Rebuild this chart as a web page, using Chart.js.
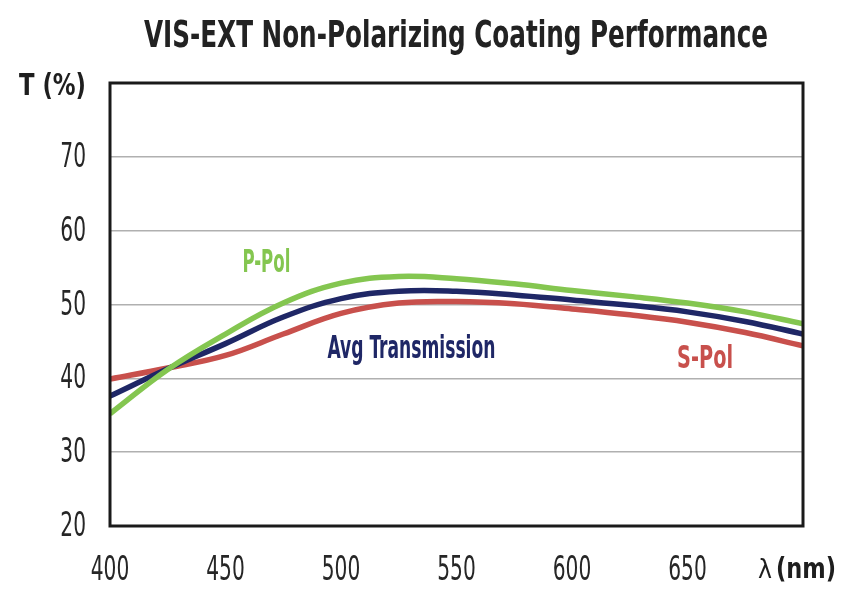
<!DOCTYPE html>
<html><head><meta charset="utf-8">
<script src="https://cdn.jsdelivr.net/npm/chart.js@4"></script>
<style>html,body{margin:0;padding:0;background:#fff}#wrap{width:843px;height:595px}</style>
</head><body><div id="wrap"><canvas id="c" width="843" height="595"></canvas></div>
<script>
const wavelengths = [400,425,450,475,500,525,550,575,600,625,650,675,700];
const pPol  = [35.2,41.2,46.0,50.2,52.9,53.8,53.5,52.8,51.9,51.1,50.2,49.0,47.4];
const avgT  = [37.6,41.3,44.7,48.3,50.8,51.8,51.8,51.3,50.6,49.9,49.0,47.7,46.0];
const sPol  = [39.9,41.4,43.1,46.0,48.8,50.2,50.4,50.1,49.4,48.6,47.6,46.2,44.4];
const xTicks = [400,450,500,550,600,650];
const yTicks = [20,30,40,50,60,70];
const titleText = 'VIS-EXT Non-Polarizing Coating Performance';
const xAxisTitle = ['λ', '(nm)'];
const yAxisTitle = 'T (%)';
const seriesLabels = [
  {text:'P-Pol', x:467.7, y:55.9, color:'#84c650', w:48},
  {text:'Avg Transmission', x:530.5, y:44.3, color:'#1f2766', w:168},
  {text:'S-Pol', x:657.6, y:42.9, color:'#c8504c', w:56}
];
const FONT = '"DejaVu Sans Condensed","DejaVu Sans",sans-serif';
const pts = a => wavelengths.map((w,i)=>({x:w,y:a[i]}));

// draw text horizontally condensed to a given width (or scale factor)
function txt(ctx, s, x, y, font, align, w, sx){
  ctx.save();
  ctx.font = font;
  const m = ctx.measureText(s).width;
  const k = w ? w/m : sx;
  ctx.translate(x, y);
  ctx.scale(k, 1);
  ctx.textAlign = align; ctx.textBaseline = 'alphabetic';
  ctx.fillText(s, 0, 0);
  ctx.restore();
  return m*k;
}

const deco = {
  id:'deco',
  afterDraw(chart){
    const {ctx, chartArea:a, scales:{x,y}} = chart;
    ctx.save();
    // box
    ctx.strokeStyle='#1a1a1a'; ctx.lineWidth=3;
    ctx.strokeRect(a.left, a.top, a.right-a.left, a.bottom-a.top);
    // title
    ctx.fillStyle='#222';
    txt(ctx, titleText, 456, 47, 'bold 38px '+FONT, 'center', 624);
    // series labels
    seriesLabels.forEach(l=>{ctx.fillStyle=l.color;
      txt(ctx, l.text, x.getPixelForValue(l.x), y.getPixelForValue(l.y)+11, 'bold 32px '+FONT, 'center', l.w);});
    // y ticks
    ctx.fillStyle='#262626';
    yTicks.forEach(v=>txt(ctx, String(v), 86, y.getPixelForValue(v)+10, '34px '+FONT, 'right', null, 0.66));
    // x ticks
    xTicks.forEach(v=>txt(ctx, String(v), x.getPixelForValue(v), 580, '34px '+FONT, 'center', null, 0.66));
    // y axis title
    ctx.fillStyle='#1e1e1e';
    txt(ctx, yAxisTitle, 86, y.getPixelForValue(80)+12, 'bold 30px '+FONT, 'right', 67);
    // x axis title
    txt(ctx, xAxisTitle[0], 758, 578, '26px '+FONT, 'left', 14);
    txt(ctx, xAxisTitle[1], 776, 578, 'bold 28px '+FONT, 'left', 60);
    ctx.restore();
  }
};

new Chart(document.getElementById('c'), {
  type:'line',
  data:{datasets:[
    {label:'P-Pol', data:pts(pPol), borderColor:'#84c650', borderWidth:5.5, order:1},
    {label:'Avg Transmission', data:pts(avgT), borderColor:'#1f2766', borderWidth:5.5, order:2},
    {label:'S-Pol', data:pts(sPol), borderColor:'#c8504c', borderWidth:5.5, order:3}
  ]},
  options:{
    responsive:false, animation:false,
    layout:{padding:{left:0,right:40,top:83,bottom:0}},
    elements:{point:{radius:0}, line:{tension:0.4, borderCapStyle:'butt'}},
    plugins:{legend:{display:false}, tooltip:{enabled:false}},
    scales:{
      x:{type:'linear', min:400, max:700,
        afterBuildTicks:s=>{s.ticks = xTicks.map(v=>({value:v}));},
        afterFit:s=>{s.height=69;},
        grid:{display:false, drawTicks:false},
        border:{display:false},
        ticks:{display:false}
      },
      y:{min:20, max:80,
        afterBuildTicks:s=>{s.ticks = yTicks.map(v=>({value:v}));},
        afterFit:s=>{s.width=110;},
        grid:{color:'#b0b0b0', lineWidth:1.5, drawTicks:false},
        border:{display:false},
        ticks:{display:false}
      }
    }
  },
  plugins:[deco]
});
</script></body></html>
